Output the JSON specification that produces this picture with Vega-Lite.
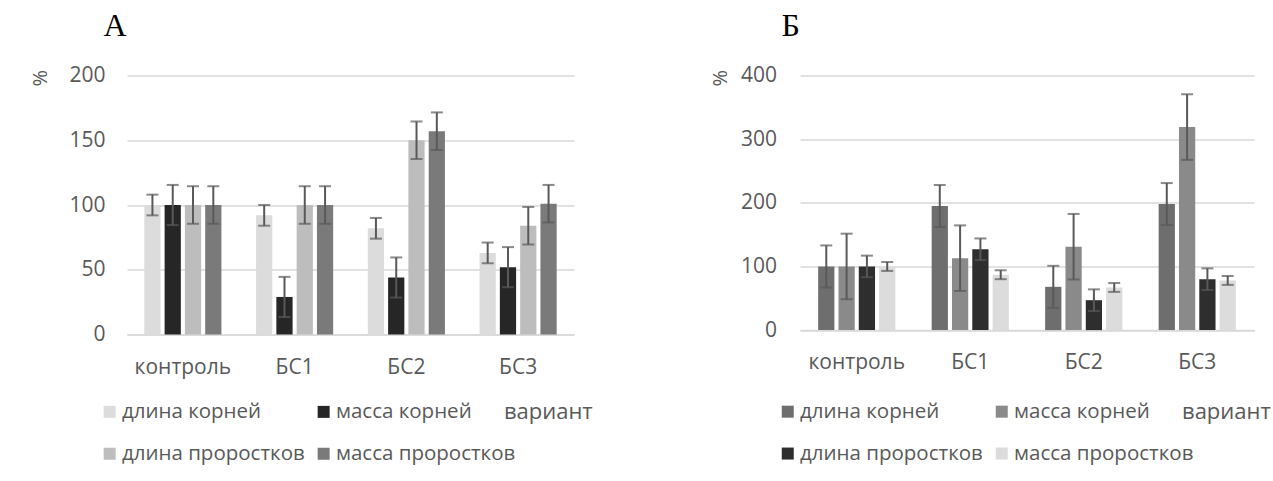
{
  "$schema": "https://vega.github.io/schema/vega-lite/v6.json",
  "background": "white",
  "padding": {"left": 30, "top": 9.5, "right": 0, "bottom": 0},
  "bounds": "flush",
  "spacing": 226,
  "config": {
    "font": "Open Sans",
    "view": {"stroke": null},
    "axis": {
      "labelFont": "Open Sans",
      "labelColor": "#595959",
      "labelFontSize": 21,
      "titleFont": "Open Sans",
      "titleColor": "#595959",
      "titleFontWeight": "normal",
      "ticks": false,
      "gridColor": "#d9d9d9",
      "gridWidth": 1.5,
      "domainColor": "#d9d9d9",
      "domainWidth": 1.5
    },
    "legend": {
      "title": null,
      "orient": "none",
      "columns": 2,
      "direction": "horizontal",
      "labelFont": "Open Sans",
      "labelFontSize": 20.5,
      "labelColor": "#595959",
      "labelLimit": 400,
      "symbolType": "square",
      "symbolSize": 144,
      "symbolStrokeWidth": 0,
      "rowPadding": 21,
      "columnPadding": 8,
      "labelOffset": 2
    },
    "title": {"font": "Liberation Serif", "fontSize": 32, "fontWeight": "normal", "color": "#000000", "anchor": "start", "frame": "group", "baseline": "alphabetic"}
  },
  "resolve": {
    "scale": {"color": "independent", "y": "independent", "x": "independent", "xOffset": "independent"},
    "legend": {"color": "independent"},
    "axis": {"x": "independent", "y": "independent"}
  },
  "hconcat": [
    {
      "width": 447,
      "height": 259,
      "title": {"text": "A", "dx": -23.6, "offset": 21.4},
      "data": {
        "values": [
          {"variant": "контроль", "series": "длина корней", "value": 100, "lo": 92, "hi": 108},
          {"variant": "контроль", "series": "масса корней", "value": 100, "lo": 84.5, "hi": 115.5},
          {"variant": "контроль", "series": "длина проростков", "value": 100, "lo": 85.5, "hi": 114.5},
          {"variant": "контроль", "series": "масса проростков", "value": 100, "lo": 85.5, "hi": 114.5},
          {"variant": "БС1", "series": "длина корней", "value": 92, "lo": 84, "hi": 100},
          {"variant": "БС1", "series": "масса корней", "value": 29, "lo": 13.5, "hi": 44.5},
          {"variant": "БС1", "series": "длина проростков", "value": 100, "lo": 85.5, "hi": 114.5},
          {"variant": "БС1", "series": "масса проростков", "value": 100, "lo": 85.5, "hi": 114.5},
          {"variant": "БС2", "series": "длина корней", "value": 82, "lo": 74, "hi": 90},
          {"variant": "БС2", "series": "масса корней", "value": 44, "lo": 28.5, "hi": 59.5},
          {"variant": "БС2", "series": "длина проростков", "value": 150, "lo": 135.5, "hi": 164.5},
          {"variant": "БС2", "series": "масса проростков", "value": 157, "lo": 142.5, "hi": 171.5},
          {"variant": "БС3", "series": "длина корней", "value": 63, "lo": 55, "hi": 71},
          {"variant": "БС3", "series": "масса корней", "value": 52, "lo": 36.5, "hi": 67.5},
          {"variant": "БС3", "series": "длина проростков", "value": 84, "lo": 69.5, "hi": 98.5},
          {"variant": "БС3", "series": "масса проростков", "value": 101, "lo": 86.5, "hi": 115.5}
        ]
      },
      "encoding": {
        "x": {
          "field": "variant",
          "type": "nominal",
          "sort": ["контроль", "БС1", "БС2", "БС3"],
          "scale": {"paddingInner": 0.31, "paddingOuter": 0.155},
          "axis": {
            "title": "вариант",
            "labelAngle": 0,
            "labelPadding": 21.5,
            "grid": false,
            "titleX": 376.4,
            "titleY": 77,
            "titleAlign": "left",
            "titleBaseline": "middle",
            "titleFontSize": 22
          }
        },
        "xOffset": {
          "field": "series",
          "type": "nominal",
          "sort": ["длина корней", "масса корней", "длина проростков", "масса проростков"],
          "scale": {"paddingInner": 0.2, "paddingOuter": 0}
        },
        "y": {
          "field": "value",
          "type": "quantitative",
          "title": "%",
          "scale": {"domain": [0, 200]},
          "axis": {
            "values": [0, 50, 100, 150, 200],
            "domain": false,
            "labelPadding": 22,
            "titleAngle": 270,
            "titleX": -86.6,
            "titleY": 2.3,
            "titleAlign": "center",
            "titleBaseline": "middle",
            "titleFontSize": 20
          }
        }
      },
      "layer": [
        {
          "mark": {"type": "bar"},
          "encoding": {
            "color": {
              "field": "series",
              "type": "nominal",
              "scale": {
                "domain": ["длина корней", "масса корней", "длина проростков", "масса проростков"],
                "range": ["#dcdcdc", "#262626", "#bdbdbd", "#7a7a7a"]
              },
              "legend": {"legendX": -27.6, "legendY": 326}
            }
          }
        },
        {
          "mark": {"type": "rule", "color": "#595959", "strokeWidth": 2},
          "encoding": {
            "y": {"field": "lo", "type": "quantitative", "title": "%"},
            "y2": {"field": "hi"}
          }
        },
        {
          "mark": {"type": "tick", "color": "#595959", "thickness": 2, "size": 12},
          "encoding": {"y": {"field": "hi", "type": "quantitative", "title": "%"}}
        },
        {
          "mark": {"type": "tick", "color": "#595959", "thickness": 2, "size": 12},
          "encoding": {"y": {"field": "lo", "type": "quantitative", "title": "%"}}
        }
      ]
    },
    {
      "width": 454,
      "height": 254.6,
      "title": {"text": "Б", "dx": -18.5, "offset": 21.4},
      "data": {
        "values": [
          {"variant": "контроль", "series": "длина корней", "value": 100, "lo": 67, "hi": 133},
          {"variant": "контроль", "series": "масса корней", "value": 100, "lo": 48.5, "hi": 151.5},
          {"variant": "контроль", "series": "длина проростков", "value": 100, "lo": 83, "hi": 117},
          {"variant": "контроль", "series": "масса проростков", "value": 100, "lo": 93, "hi": 107},
          {"variant": "БС1", "series": "длина корней", "value": 195, "lo": 162, "hi": 228},
          {"variant": "БС1", "series": "масса корней", "value": 113, "lo": 61.5, "hi": 164.5},
          {"variant": "БС1", "series": "длина проростков", "value": 127, "lo": 110, "hi": 144},
          {"variant": "БС1", "series": "масса проростков", "value": 87, "lo": 80, "hi": 94},
          {"variant": "БС2", "series": "длина корней", "value": 68, "lo": 35, "hi": 101},
          {"variant": "БС2", "series": "масса корней", "value": 131, "lo": 79.5, "hi": 182.5},
          {"variant": "БС2", "series": "длина проростков", "value": 47, "lo": 30, "hi": 64},
          {"variant": "БС2", "series": "масса проростков", "value": 67, "lo": 60, "hi": 74},
          {"variant": "БС3", "series": "длина корней", "value": 198, "lo": 165, "hi": 231},
          {"variant": "БС3", "series": "масса корней", "value": 319, "lo": 267.5, "hi": 370.5},
          {"variant": "БС3", "series": "длина проростков", "value": 80, "lo": 63, "hi": 97},
          {"variant": "БС3", "series": "масса проростков", "value": 78, "lo": 71, "hi": 85}
        ]
      },
      "encoding": {
        "x": {
          "field": "variant",
          "type": "nominal",
          "sort": ["контроль", "БС1", "БС2", "БС3"],
          "scale": {"paddingInner": 0.32, "paddingOuter": 0.16},
          "axis": {
            "title": "вариант",
            "labelAngle": 0,
            "labelPadding": 21.5,
            "grid": false,
            "titleX": 381.5,
            "titleY": 81.4,
            "titleAlign": "left",
            "titleBaseline": "middle",
            "titleFontSize": 22
          }
        },
        "xOffset": {
          "field": "series",
          "type": "nominal",
          "sort": ["длина корней", "масса корней", "длина проростков", "масса проростков"],
          "scale": {"paddingInner": 0.2, "paddingOuter": 0}
        },
        "y": {
          "field": "value",
          "type": "quantitative",
          "title": "%",
          "scale": {"domain": [0, 400]},
          "axis": {
            "values": [0, 100, 200, 300, 400],
            "domain": false,
            "labelPadding": 23.5,
            "titleAngle": 270,
            "titleX": -79.5,
            "titleY": 2.3,
            "titleAlign": "center",
            "titleBaseline": "middle",
            "titleFontSize": 20
          }
        }
      },
      "layer": [
        {
          "mark": {"type": "bar"},
          "encoding": {
            "color": {
              "field": "series",
              "type": "nominal",
              "scale": {
                "domain": ["длина корней", "масса корней", "длина проростков", "масса проростков"],
                "range": ["#6e6e6e", "#8a8a8a", "#2e2e2e", "#dcdcdc"]
              },
              "legend": {"legendX": -22.5, "legendY": 325.8}
            }
          }
        },
        {
          "mark": {"type": "rule", "color": "#595959", "strokeWidth": 2},
          "encoding": {
            "y": {"field": "lo", "type": "quantitative", "title": "%"},
            "y2": {"field": "hi"}
          }
        },
        {
          "mark": {"type": "tick", "color": "#595959", "thickness": 2, "size": 12},
          "encoding": {"y": {"field": "hi", "type": "quantitative", "title": "%"}}
        },
        {
          "mark": {"type": "tick", "color": "#595959", "thickness": 2, "size": 12},
          "encoding": {"y": {"field": "lo", "type": "quantitative", "title": "%"}}
        }
      ]
    }
  ]
}
